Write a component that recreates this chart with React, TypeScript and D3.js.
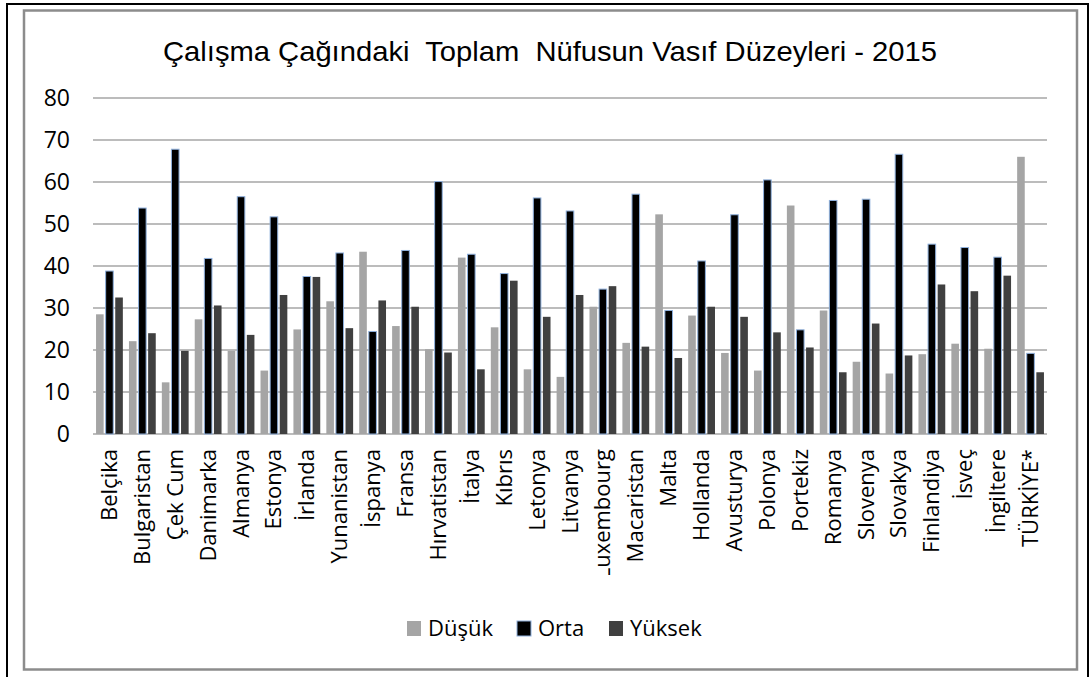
import React from "react";
import * as d3 from "d3";

const categories = [
  "Belçika", "Bulgaristan", "Çek Cum", "Danimarka", "Almanya", "Estonya", "İrlanda",
  "Yunanistan", "İspanya", "Fransa", "Hırvatistan", "İtalya", "Kıbrıs", "Letonya",
  "Litvanya", "Luxembourg", "Macaristan", "Malta", "Hollanda", "Avusturya", "Polonya",
  "Portekiz", "Romanya", "Slovenya", "Slovakya", "Finlandiya", "İsveç", "İngiltere", "TÜRKİYE*",
];

const dusuk = [28.5, 22.1, 12.3, 27.3, 19.8, 15.1, 24.9, 31.6, 43.4, 25.7, 20.2, 42.0, 25.4, 15.4,
  13.6, 30.3, 21.7, 52.3, 28.2, 19.3, 15.1, 54.4, 29.4, 17.2, 14.4, 19.0, 21.5, 20.3, 66.0];
const orta = [38.8, 53.8, 67.8, 41.8, 56.5, 51.7, 37.5, 43.1, 24.4, 43.7, 60.1, 42.8, 38.2, 56.2,
  53.1, 34.5, 57.1, 29.4, 41.2, 52.2, 60.5, 24.8, 55.6, 55.9, 66.6, 45.2, 44.4, 42.1, 19.2];
const yuksek = [32.5, 24.0, 19.8, 30.6, 23.6, 33.1, 37.4, 25.2, 31.8, 30.3, 19.4, 15.4, 36.5, 27.9,
  33.1, 35.2, 20.8, 18.1, 30.3, 27.9, 24.2, 20.6, 14.7, 26.3, 18.7, 35.6, 34.0, 37.7, 14.7];

const seriesNames = ["Düşük", "Orta", "Yüksek"];
const yTicks = [0, 10, 20, 30, 40, 50, 60, 70, 80];
const title = "Çalışma Çağındaki  Toplam  Nüfusun Vasıf Düzeyleri - 2015";

const fills: Record<string, string> = { "Düşük": "#a5a5a5", "Orta": "#000000", "Yüksek": "#404040" };
const strokes: Record<string, string> = { "Düşük": "none", "Orta": "#8fb0dc", "Yüksek": "none" };

export default function App() {
  const W = 1092, H = 677;
  const left = 93, right = 1047, top = 98, bottom = 434;
  const x0 = d3.scaleBand<string>().domain(categories).range([left, right]).paddingInner(0).paddingOuter(0);
  const bw = x0.bandwidth();
  const gw = 26.8;
  const x1 = d3.scaleBand<string>().domain(seriesNames).range([(bw - gw) / 2, (bw + gw) / 2]).paddingInner(0.208).paddingOuter(0);
  const y = d3.scaleLinear().domain([0, 80]).range([bottom, top]);
  const data = [dusuk, orta, yuksek];
  const labelFont = "'Open Sans', Lato, sans-serif";

  const legendItems = [
    { name: "Düşük", x: 407 },
    { name: "Orta", x: 517 },
    { name: "Yüksek", x: 609 },
  ];

  return (
    <svg width={W} height={H} style={{ position: "absolute", left: 0, top: 0, background: "#fff" }}>
      <defs>
        <clipPath id="labelClip">
          <rect x={0} y={0} width={W} height={575} />
        </clipPath>
      </defs>
      <rect x={0} y={0} width={W} height={H} fill="#fff" />
      <path d={`M7,${H} L7,4 L1088,4 L1088,${H}`} fill="none" stroke="#000" strokeWidth={2} />
      <rect x={24} y={10.5} width={1053} height={659} fill="#fff" stroke="#8c8c8c" strokeWidth={2.5} />
      <text x={550} y={61} textAnchor="middle" fontFamily="'Liberation Sans', Arial, sans-serif" fontSize={28}
        textLength={774} lengthAdjust="spacingAndGlyphs" fill="#000" style={{ whiteSpace: "pre" }}>
        {title}
      </text>
      {yTicks.map((t) => (
        <g key={t}>
          <line x1={left} x2={right} y1={y(t)} y2={y(t)} stroke="#a6a6a6" strokeWidth={1.6} />
          <text x={70} y={y(t) + 8} textAnchor="end" fontFamily={labelFont} fontSize={23} fill="#000">{t}</text>
        </g>
      ))}
      {categories.map((c, i) => (
        <g key={c} transform={`translate(${x0(c)},0)`}>
          {seriesNames.map((s, k) => (
            <rect key={s} x={x1(s)} y={y(data[k][i])} width={x1.bandwidth()} height={y(0) - y(data[k][i])}
              fill={fills[s]} stroke={strokes[s]} strokeWidth={strokes[s] === "none" ? 0 : 1} />
          ))}
        </g>
      ))}
      <g clipPath="url(#labelClip)">
        {categories.map((c) => {
          const cx = (x0(c) as number) + bw / 2;
          return (
            <text key={c} transform={`translate(${cx + 7.5},449) rotate(-90)`} textAnchor="end"
              fontFamily={labelFont} fontSize={22} fill="#000">{c}</text>
          );
        })}
      </g>
      {legendItems.map((l) => (
        <g key={l.name}>
          <rect x={l.x} y={621} width={14} height={15} fill={fills[l.name]}
            stroke={strokes[l.name]} strokeWidth={strokes[l.name] === "none" ? 0 : 1} />
          <text x={l.x + 21} y={636} fontFamily={labelFont} fontSize={22} fill="#000">{l.name}</text>
        </g>
      ))}
    </svg>
  );
}
